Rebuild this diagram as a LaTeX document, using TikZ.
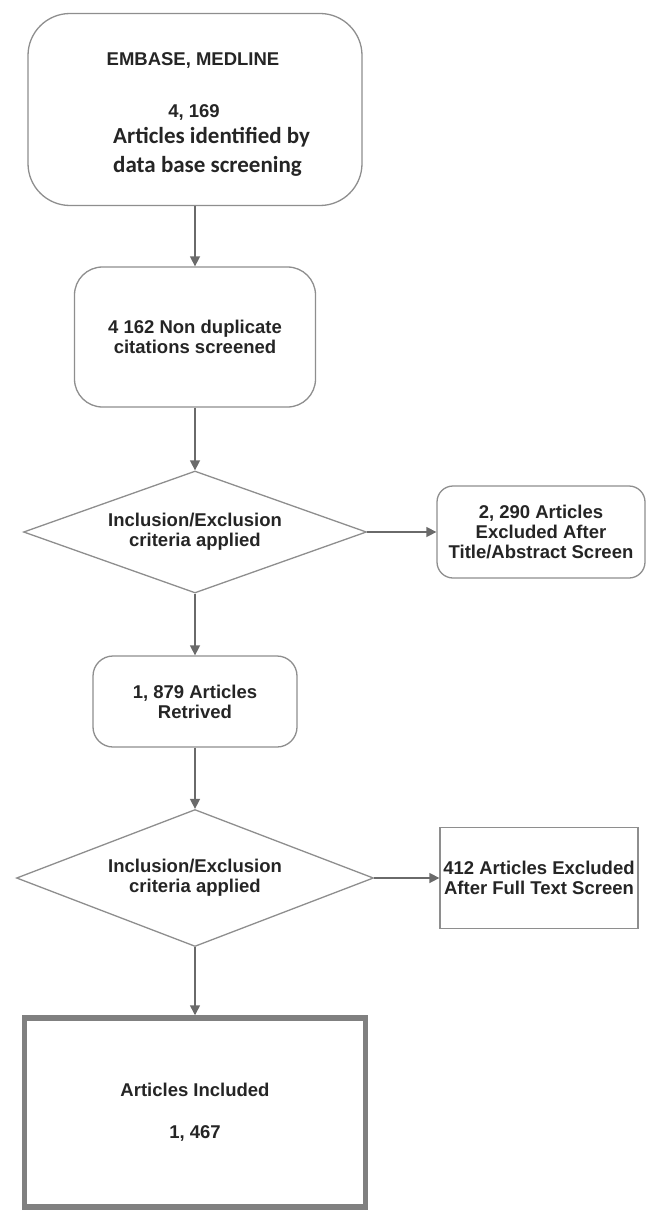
\documentclass[tikz,border=0pt]{standalone}
\usepackage{fontspec}
\setmainfont{Liberation Sans}
\newfontfamily\carlito{Carlito}
\usetikzlibrary{shapes.geometric,arrows.meta}

\definecolor{edgegray}{HTML}{8E8E8E}
\definecolor{arrowgray}{HTML}{6A6A6A}
\definecolor{txtgray}{HTML}{252525}

\begin{document}
\begin{tikzpicture}[x=1pt, y=-1pt,
    txt/.style={font=\bfseries\fontsize{18.5}{20}\selectfont, text=txtgray, align=center, inner sep=0pt},
    box/.style={txt, draw=edgegray, line width=1.3pt, fill=white, rounded corners=#1},
    box/.default=18pt,
    decision/.style={txt, draw=edgegray, line width=1.3pt, fill=white, diamond, aspect=2.6},
    arr/.style={draw=arrowgray, line width=1.5pt, -{Triangle[length=10pt,width=10pt]}}]

    \useasboundingbox (0,0) rectangle (657,1228);

    % boxes down the middle
    \node[box=42pt, minimum width=334pt, minimum height=192pt] (src) at (195, 109.5) {};
    \node[txt] (srcdb) at (193, 60) {EMBASE, MEDLINE};
    \node[txt] (srcnum) at (194, 112) {4, 169};
    \node[txt, font=\carlito\bfseries\fontsize{23}{29}\selectfont, align=left, anchor=west] (srctxt) at (113, 152) {Articles identified by\\data base screening};

    \node[box=28pt, minimum width=241pt, minimum height=140pt] (scr) at (195, 337) {4 162 Non duplicate\\citations screened};
    \node[decision, minimum width=343pt, minimum height=122pt] (crit1) at (195, 532) {Inclusion/Exclusion\\criteria applied};
    \node[box=20pt, minimum width=204pt, minimum height=91pt] (ret) at (195, 701.5) {1, 879 Articles\\Retrived};
    \node[decision, minimum width=357pt, minimum height=137pt] (crit2) at (195, 878) {Inclusion/Exclusion\\criteria applied};
    \node[box=0pt, draw=edgegray!90!black, line width=5.5pt, minimum width=341pt, minimum height=189pt] (inc) at (195, 1112.5) {Articles Included\\[22pt]1, 467};

    % excluded boxes on the right
    \node[box=16pt, minimum width=208pt, minimum height=92pt] (exc1) at (541, 532) {2, 290 Articles\\Excluded After\\Title/Abstract Screen};
    \node[box=0pt, minimum width=198pt, minimum height=101pt] (exc2) at (539, 878) {412 Articles Excluded\\After Full Text Screen};

    \draw[arr] (src.south) -- (scr.north);
    \draw[arr] (scr.south) -- (crit1.north);
    \draw[arr] (crit1.south) -- (ret.north);
    \draw[arr] (ret.south) -- (crit2.north);
    \draw[arr] (crit2.south) -- (inc.north);
    \draw[arr] (crit1.east) -- (exc1.west);
    \draw[arr] (crit2.east) -- (exc2.west);
\end{tikzpicture}
\end{document}
